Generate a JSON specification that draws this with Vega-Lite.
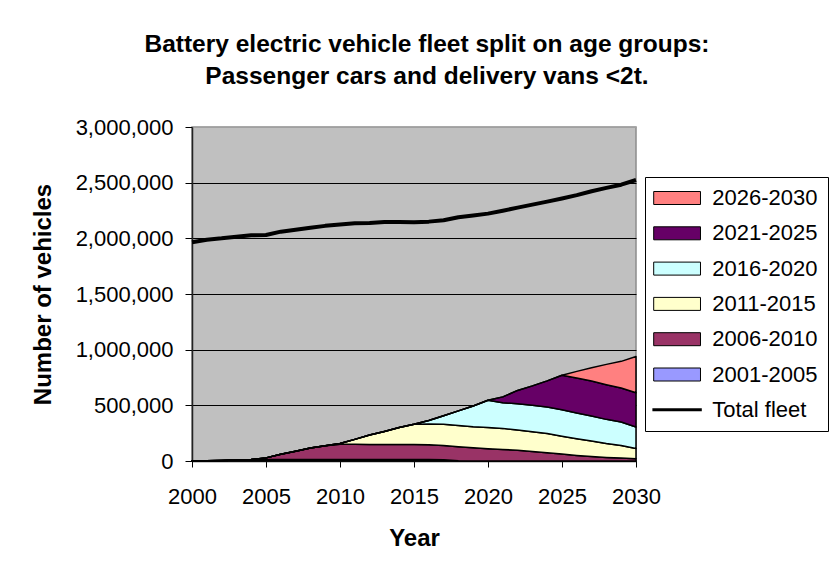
{
  "$schema": "https://vega.github.io/schema/vega-lite/v6.json",
  "autosize": {"type": "none"},
  "padding": {"left": 192, "top": 127, "right": 201, "bottom": 113},
  "width": 444,
  "height": 334,
  "background": "white",
  "title": {
    "text": ["Battery electric vehicle fleet split on age groups:", "Passenger cars and delivery vans <2t."],
    "font": "Liberation Sans",
    "fontSize": 24.5,
    "fontWeight": "bold",
    "color": "black",
    "anchor": "middle",
    "frame": "group",
    "dx": 13,
    "lineHeight": 32.7,
    "baseline": "bottom",
    "offset": 2
  },
  "datasets": {
    "cohorts": [
      {"year": 2000, "group": "2001-2005", "n": 0}, {"year": 2001, "group": "2001-2005", "n": 2000}, {"year": 2002, "group": "2001-2005", "n": 5000}, {"year": 2003, "group": "2001-2005", "n": 8000}, {"year": 2004, "group": "2001-2005", "n": 11000}, {"year": 2005, "group": "2001-2005", "n": 14000}, {"year": 2006, "group": "2001-2005", "n": 14000}, {"year": 2007, "group": "2001-2005", "n": 14000}, {"year": 2008, "group": "2001-2005", "n": 14000}, {"year": 2009, "group": "2001-2005", "n": 14000}, {"year": 2010, "group": "2001-2005", "n": 14000}, {"year": 2011, "group": "2001-2005", "n": 14000}, {"year": 2012, "group": "2001-2005", "n": 14000}, {"year": 2013, "group": "2001-2005", "n": 14000}, {"year": 2014, "group": "2001-2005", "n": 14000}, {"year": 2015, "group": "2001-2005", "n": 14000}, {"year": 2016, "group": "2001-2005", "n": 13000}, {"year": 2017, "group": "2001-2005", "n": 12000}, {"year": 2018, "group": "2001-2005", "n": 2000}, {"year": 2019, "group": "2001-2005", "n": 0}, {"year": 2020, "group": "2001-2005", "n": 0}, {"year": 2021, "group": "2001-2005", "n": 0}, {"year": 2022, "group": "2001-2005", "n": 0}, {"year": 2023, "group": "2001-2005", "n": 0}, {"year": 2024, "group": "2001-2005", "n": 0}, {"year": 2025, "group": "2001-2005", "n": 0}, {"year": 2026, "group": "2001-2005", "n": 0}, {"year": 2027, "group": "2001-2005", "n": 0}, {"year": 2028, "group": "2001-2005", "n": 0}, {"year": 2029, "group": "2001-2005", "n": 0}, {"year": 2030, "group": "2001-2005", "n": 0},

      {"year": 2000, "group": "2006-2010", "n": 0}, {"year": 2001, "group": "2006-2010", "n": 0}, {"year": 2002, "group": "2006-2010", "n": 0}, {"year": 2003, "group": "2006-2010", "n": 0}, {"year": 2004, "group": "2006-2010", "n": 3000}, {"year": 2005, "group": "2006-2010", "n": 14000}, {"year": 2006, "group": "2006-2010", "n": 46000}, {"year": 2007, "group": "2006-2010", "n": 74000}, {"year": 2008, "group": "2006-2010", "n": 103000}, {"year": 2009, "group": "2006-2010", "n": 124000}, {"year": 2010, "group": "2006-2010", "n": 136000}, {"year": 2011, "group": "2006-2010", "n": 136000}, {"year": 2012, "group": "2006-2010", "n": 134000}, {"year": 2013, "group": "2006-2010", "n": 134000}, {"year": 2014, "group": "2006-2010", "n": 134000}, {"year": 2015, "group": "2006-2010", "n": 134000}, {"year": 2016, "group": "2006-2010", "n": 134000}, {"year": 2017, "group": "2006-2010", "n": 128000}, {"year": 2018, "group": "2006-2010", "n": 126000}, {"year": 2019, "group": "2006-2010", "n": 118000}, {"year": 2020, "group": "2006-2010", "n": 110000}, {"year": 2021, "group": "2006-2010", "n": 104000}, {"year": 2022, "group": "2006-2010", "n": 96000}, {"year": 2023, "group": "2006-2010", "n": 85000}, {"year": 2024, "group": "2006-2010", "n": 75000}, {"year": 2025, "group": "2006-2010", "n": 62000}, {"year": 2026, "group": "2006-2010", "n": 50000}, {"year": 2027, "group": "2006-2010", "n": 40000}, {"year": 2028, "group": "2006-2010", "n": 32000}, {"year": 2029, "group": "2006-2010", "n": 26000}, {"year": 2030, "group": "2006-2010", "n": 20000},

      {"year": 2000, "group": "2011-2015", "n": 0}, {"year": 2001, "group": "2011-2015", "n": 0}, {"year": 2002, "group": "2011-2015", "n": 0}, {"year": 2003, "group": "2011-2015", "n": 0}, {"year": 2004, "group": "2011-2015", "n": 0}, {"year": 2005, "group": "2011-2015", "n": 0}, {"year": 2006, "group": "2011-2015", "n": 0}, {"year": 2007, "group": "2011-2015", "n": 0}, {"year": 2008, "group": "2011-2015", "n": 0}, {"year": 2009, "group": "2011-2015", "n": 0}, {"year": 2010, "group": "2011-2015", "n": 8000}, {"year": 2011, "group": "2011-2015", "n": 44000}, {"year": 2012, "group": "2011-2015", "n": 85000}, {"year": 2013, "group": "2011-2015", "n": 117000}, {"year": 2014, "group": "2011-2015", "n": 152000}, {"year": 2015, "group": "2011-2015", "n": 182000}, {"year": 2016, "group": "2011-2015", "n": 185000}, {"year": 2017, "group": "2011-2015", "n": 190000}, {"year": 2018, "group": "2011-2015", "n": 190000}, {"year": 2019, "group": "2011-2015", "n": 190000}, {"year": 2020, "group": "2011-2015", "n": 192000}, {"year": 2021, "group": "2011-2015", "n": 189000}, {"year": 2022, "group": "2011-2015", "n": 182000}, {"year": 2023, "group": "2011-2015", "n": 177000}, {"year": 2024, "group": "2011-2015", "n": 171000}, {"year": 2025, "group": "2011-2015", "n": 161000}, {"year": 2026, "group": "2011-2015", "n": 150000}, {"year": 2027, "group": "2011-2015", "n": 140000}, {"year": 2028, "group": "2011-2015", "n": 126000}, {"year": 2029, "group": "2011-2015", "n": 114000}, {"year": 2030, "group": "2011-2015", "n": 92000},

      {"year": 2000, "group": "2016-2020", "n": 0}, {"year": 2001, "group": "2016-2020", "n": 0}, {"year": 2002, "group": "2016-2020", "n": 0}, {"year": 2003, "group": "2016-2020", "n": 0}, {"year": 2004, "group": "2016-2020", "n": 0}, {"year": 2005, "group": "2016-2020", "n": 0}, {"year": 2006, "group": "2016-2020", "n": 0}, {"year": 2007, "group": "2016-2020", "n": 0}, {"year": 2008, "group": "2016-2020", "n": 0}, {"year": 2009, "group": "2016-2020", "n": 0}, {"year": 2010, "group": "2016-2020", "n": 0}, {"year": 2011, "group": "2016-2020", "n": 0}, {"year": 2012, "group": "2016-2020", "n": 0}, {"year": 2013, "group": "2016-2020", "n": 0}, {"year": 2014, "group": "2016-2020", "n": 0}, {"year": 2015, "group": "2016-2020", "n": 0}, {"year": 2016, "group": "2016-2020", "n": 32000}, {"year": 2017, "group": "2016-2020", "n": 77000}, {"year": 2018, "group": "2016-2020", "n": 132000}, {"year": 2019, "group": "2016-2020", "n": 186000}, {"year": 2020, "group": "2016-2020", "n": 243000}, {"year": 2021, "group": "2016-2020", "n": 231000}, {"year": 2022, "group": "2016-2020", "n": 237000}, {"year": 2023, "group": "2016-2020", "n": 238000}, {"year": 2024, "group": "2016-2020", "n": 239000}, {"year": 2025, "group": "2016-2020", "n": 238000}, {"year": 2026, "group": "2016-2020", "n": 231000}, {"year": 2027, "group": "2016-2020", "n": 224000}, {"year": 2028, "group": "2016-2020", "n": 216000}, {"year": 2029, "group": "2016-2020", "n": 210000}, {"year": 2030, "group": "2016-2020", "n": 193000},

      {"year": 2000, "group": "2021-2025", "n": 0}, {"year": 2001, "group": "2021-2025", "n": 0}, {"year": 2002, "group": "2021-2025", "n": 0}, {"year": 2003, "group": "2021-2025", "n": 0}, {"year": 2004, "group": "2021-2025", "n": 0}, {"year": 2005, "group": "2021-2025", "n": 0}, {"year": 2006, "group": "2021-2025", "n": 0}, {"year": 2007, "group": "2021-2025", "n": 0}, {"year": 2008, "group": "2021-2025", "n": 0}, {"year": 2009, "group": "2021-2025", "n": 0}, {"year": 2010, "group": "2021-2025", "n": 0}, {"year": 2011, "group": "2021-2025", "n": 0}, {"year": 2012, "group": "2021-2025", "n": 0}, {"year": 2013, "group": "2021-2025", "n": 0}, {"year": 2014, "group": "2021-2025", "n": 0}, {"year": 2015, "group": "2021-2025", "n": 0}, {"year": 2016, "group": "2021-2025", "n": 0}, {"year": 2017, "group": "2021-2025", "n": 0}, {"year": 2018, "group": "2021-2025", "n": 0}, {"year": 2019, "group": "2021-2025", "n": 0}, {"year": 2020, "group": "2021-2025", "n": 0}, {"year": 2021, "group": "2021-2025", "n": 52000}, {"year": 2022, "group": "2021-2025", "n": 119000}, {"year": 2023, "group": "2021-2025", "n": 175000}, {"year": 2024, "group": "2021-2025", "n": 235000}, {"year": 2025, "group": "2021-2025", "n": 309000}, {"year": 2026, "group": "2021-2025", "n": 314000}, {"year": 2027, "group": "2021-2025", "n": 314000}, {"year": 2028, "group": "2021-2025", "n": 311000}, {"year": 2029, "group": "2021-2025", "n": 305000}, {"year": 2030, "group": "2021-2025", "n": 308000},

      {"year": 2000, "group": "2026-2030", "n": 0}, {"year": 2001, "group": "2026-2030", "n": 0}, {"year": 2002, "group": "2026-2030", "n": 0}, {"year": 2003, "group": "2026-2030", "n": 0}, {"year": 2004, "group": "2026-2030", "n": 0}, {"year": 2005, "group": "2026-2030", "n": 0}, {"year": 2006, "group": "2026-2030", "n": 0}, {"year": 2007, "group": "2026-2030", "n": 0}, {"year": 2008, "group": "2026-2030", "n": 0}, {"year": 2009, "group": "2026-2030", "n": 0}, {"year": 2010, "group": "2026-2030", "n": 0}, {"year": 2011, "group": "2026-2030", "n": 0}, {"year": 2012, "group": "2026-2030", "n": 0}, {"year": 2013, "group": "2026-2030", "n": 0}, {"year": 2014, "group": "2026-2030", "n": 0}, {"year": 2015, "group": "2026-2030", "n": 0}, {"year": 2016, "group": "2026-2030", "n": 0}, {"year": 2017, "group": "2026-2030", "n": 0}, {"year": 2018, "group": "2026-2030", "n": 0}, {"year": 2019, "group": "2026-2030", "n": 0}, {"year": 2020, "group": "2026-2030", "n": 0}, {"year": 2021, "group": "2026-2030", "n": 0}, {"year": 2022, "group": "2026-2030", "n": 0}, {"year": 2023, "group": "2026-2030", "n": 0}, {"year": 2024, "group": "2026-2030", "n": 0}, {"year": 2025, "group": "2026-2030", "n": 0}, {"year": 2026, "group": "2026-2030", "n": 60000}, {"year": 2027, "group": "2026-2030", "n": 120000}, {"year": 2028, "group": "2026-2030", "n": 183000}, {"year": 2029, "group": "2026-2030", "n": 240000}, {"year": 2030, "group": "2026-2030", "n": 325000}
    ],
    "fleet": [
      {"year": 2000, "total": 1965000}, {"year": 2001, "total": 1988000}, {"year": 2002, "total": 2000000}, {"year": 2003, "total": 2015000}, {"year": 2004, "total": 2028000}, {"year": 2005, "total": 2030000}, {"year": 2006, "total": 2060000}, {"year": 2007, "total": 2078000}, {"year": 2008, "total": 2096000}, {"year": 2009, "total": 2112000}, {"year": 2010, "total": 2125000}, {"year": 2011, "total": 2135000}, {"year": 2012, "total": 2137000}, {"year": 2013, "total": 2146000}, {"year": 2014, "total": 2147000}, {"year": 2015, "total": 2145000}, {"year": 2016, "total": 2150000}, {"year": 2017, "total": 2163000}, {"year": 2018, "total": 2190000}, {"year": 2019, "total": 2205000}, {"year": 2020, "total": 2222000}, {"year": 2021, "total": 2248000}, {"year": 2022, "total": 2276000}, {"year": 2023, "total": 2303000}, {"year": 2024, "total": 2330000}, {"year": 2025, "total": 2358000}, {"year": 2026, "total": 2388000}, {"year": 2027, "total": 2423000}, {"year": 2028, "total": 2453000}, {"year": 2029, "total": 2482000}, {"year": 2030, "total": 2524000}
    ]
  },
  "encoding": {
    "x": {
      "field": "year",
      "type": "quantitative",
      "scale": {"domain": [2000, 2030], "nice": false, "zero": false},
      "axis": {
        "title": "Year",
        "values": [2000, 2005, 2010, 2015, 2020, 2025, 2030],
        "format": "d",
        "grid": false,
        "tickSize": 6,
        "labelFlush": false,
        "labelOverlap": false,
        "labelPadding": 19,
        "titlePadding": 19
      }
    }
  },
  "layer": [
    {
      "data": {"name": "cohorts"},
      "mark": {"type": "area", "stroke": "black", "strokeWidth": 1.5, "strokeJoin": "round"},
      "encoding": {
        "y": {
          "field": "n",
          "type": "quantitative",
          "stack": "zero",
          "scale": {"domain": [0, 3000000], "nice": false},
          "axis": {
            "title": "Number of vehicles",
            "values": [0, 500000, 1000000, 1500000, 2000000, 2500000, 3000000],
            "format": ",.0f",
            "tickSize": 7,
            "labelPadding": 12,
            "titlePadding": 20,
            "grid": true,
            "gridColor": {"condition": {"test": "datum.value >= 3000000", "value": "#A0A0A0"}, "value": "black"},
            "gridWidth": 1
          }
        },
        "color": {
          "field": "group",
          "type": "nominal",
          "scale": {
            "domain": ["2026-2030", "2021-2025", "2016-2020", "2011-2015", "2006-2010", "2001-2005", "Total fleet"],
            "range": ["#FF8080", "#660066", "#CCFFFF", "#FFFFCC", "#993366", "#9999FF", "#000000"]
          },
          "legend": {
            "title": null,
            "orient": "none",
            "legendX": 453,
            "legendY": 50,
            "padding": 10,
            "strokeColor": "black",
            "fillColor": "white",
            "labelFontSize": 22,
            "labelColor": "black",
            "labelExpr": "datum.label + '\u00a0'",
            "rowPadding": 13.3,
            "symbolSize": 169,
            "symbolOffset": 11.1,
            "labelOffset": 24.1,
            "symbolType": {"expr": "datum.value === 'Total fleet' ? 'M-3.8,0H3.8' : 'M-3.6,-1H3.6V1H-3.6Z'"},
            "symbolStrokeColor": "black",
            "symbolStrokeWidth": {"expr": "datum.value === 'Total fleet' ? 3 : 1"},
            "symbolOpacity": 1
          }
        },
        "order": {"field": "group", "sort": "ascending"}
      }
    },
    {
      "data": {"name": "fleet"},
      "mark": {"type": "line", "color": "black", "strokeWidth": 4, "strokeJoin": "round"},
      "encoding": {
        "y": {"field": "total", "type": "quantitative"}
      }
    }
  ],
  "config": {
    "font": "Liberation Sans",
    "view": {"fill": "#C0C0C0", "stroke": "#8C8C8C", "strokeWidth": 1.5},
    "axis": {
      "labelFont": "Liberation Sans",
      "labelFontSize": 22,
      "labelColor": "black",
      "titleFont": "Liberation Sans",
      "titleFontSize": 24,
      "titleFontWeight": "bold",
      "titleColor": "black",
      "tickColor": "black",
      "domainColor": "#222222",
      "domainWidth": 1.5
    },
    "legend": {"labelFont": "Liberation Sans"}
  }
}
